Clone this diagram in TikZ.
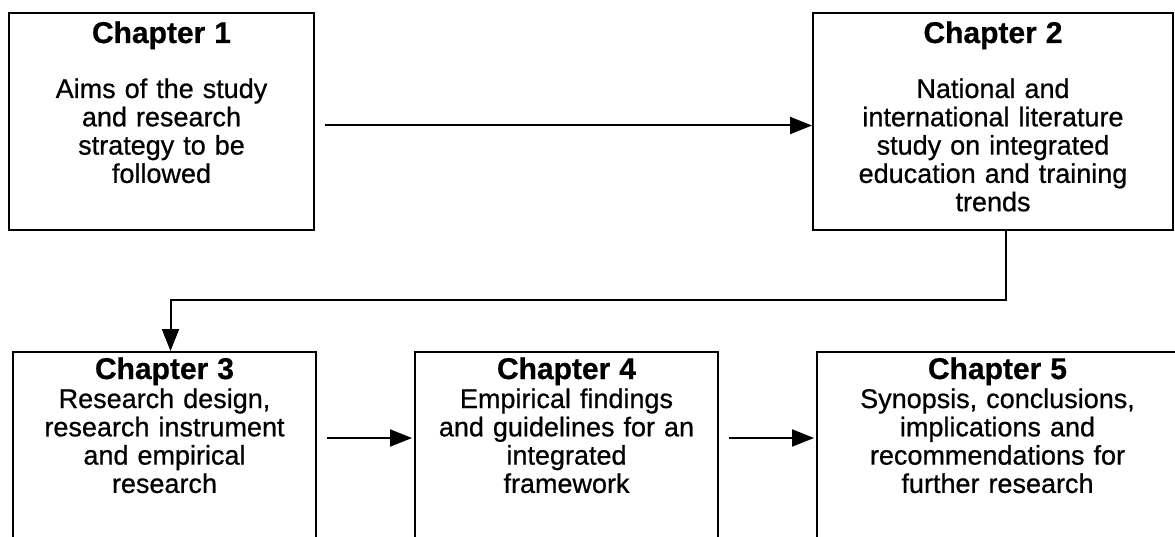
\documentclass[tikz,border=0pt]{standalone}
\usepackage{fontspec}
\setmainfont{Liberation Sans}[RawFeature={embolden=0.7}]
\usetikzlibrary{arrows.meta,positioning}

\newcommand{\chaphead}[1]{{\fontsize{30}{28.3}\selectfont\bfseries #1}}

\begin{document}
\begin{tikzpicture}[x=1pt,y=-1pt,>={Triangle[length=22pt,width=17pt]},line width=2pt,
	chap/.style={draw,rectangle,inner sep=0pt,align=center,text width=#1,font=\fontsize{27}{28.3}\selectfont},
	toprow/.style={chap=#1,text height=30pt,text depth=187pt},
	botrow/.style={chap=#1,text height=27pt,text depth=200pt}]

\useasboundingbox (0,0) rectangle (1175,537);

% top row
\node[toprow=305pt,anchor=north west]   (c1) at (8,12)
	{\chaphead{Chapter 1}\\[26.7pt] Aims of the study\\ and research\\ strategy to be\\ followed};
\node[toprow=360pt,right=497pt of c1.north east,anchor=north west]   (c2)
	{\chaphead{Chapter 2}\\[26.7pt] National and\\ international literature\\ study on integrated\\ education and training\\ trends};

% bottom row
\node[botrow=303pt,anchor=north west]   (c3) at (12,351)
	{\chaphead{Chapter 3}\\[0.7pt] Research design,\\ research instrument\\ and empirical\\ research};
\node[botrow=303pt,right=97pt of c3.north east,anchor=north west]   (c4)
	{\chaphead{Chapter 4}\\[0.7pt] Empirical findings\\ and guidelines for an\\ integrated\\ framework};
\node[botrow=361pt,right=97pt of c4.north east,anchor=north west]   (c5)
	{\chaphead{Chapter 5}\\[0.7pt] Synopsis, conclusions,\\ implications and\\ recommendations for\\ further research};

\draw[->,shorten <=10pt] ([yshift=-4pt]c1.east) -- ([yshift=-4pt]c1.east -| c2.west);
\draw[->] (c2.-83) -- ++(0,69) -| ([xshift=6pt]c3.north);
\draw[->,shorten <=10pt,shorten >=2pt] ([yshift=-59pt]c3.base east) -- ([yshift=-59pt]c4.base west);
\draw[->,shorten <=10pt,shorten >=2pt] ([yshift=-59pt]c4.base east) -- ([yshift=-59pt]c5.base west);
\end{tikzpicture}
\end{document}
